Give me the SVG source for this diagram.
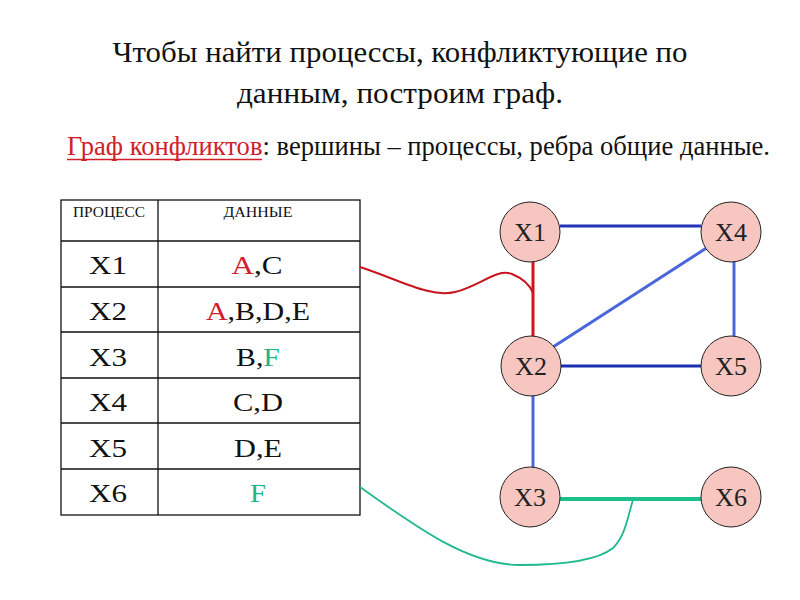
<svg xmlns="http://www.w3.org/2000/svg" width="800" height="600" viewBox="0 0 800 600">
<style>
.t{font-family:"Liberation Serif","Times New Roman",serif;fill:#111}
.cell{font-size:26px;text-anchor:middle}
.hdr{font-size:14px;text-anchor:middle}
.grid{stroke:#111;stroke-width:1.3;fill:none}
.node circle{fill:#f7c6c0;stroke:#222;stroke-width:1}
.node text{font-family:"Liberation Serif","Times New Roman",serif;font-size:26px;text-anchor:middle;fill:#222}
.red{fill:#d0202a}
.grn{fill:#22b48c}
</style>
<rect width="800" height="600" fill="#fff"/>
<g id="title">
<text class="t" x="400" y="62" font-size="29" text-anchor="middle" textLength="575" lengthAdjust="spacingAndGlyphs">Чтобы найти процессы, конфликтующие по</text>
<text class="t" x="400" y="103" font-size="29" text-anchor="middle" textLength="326" lengthAdjust="spacingAndGlyphs">данным, построим граф.</text>
</g>
<g id="subtitle">
<text class="t" x="67" y="155" font-size="27" textLength="703" lengthAdjust="spacingAndGlyphs"><tspan class="red">Граф конфликтов</tspan>: вершины – процессы, ребра общие данные.</text>
<line x1="67" y1="159.5" x2="262" y2="159.5" stroke="#d0202a" stroke-width="1.5"/>
</g>
<g id="table">
<rect class="grid" x="61" y="200" width="299" height="315"/>
<line class="grid" x1="158" y1="200" x2="158" y2="515"/>
<line class="grid" x1="61" y1="241" x2="360" y2="241"/>
<line class="grid" x1="61" y1="287" x2="360" y2="287"/>
<line class="grid" x1="61" y1="332" x2="360" y2="332"/>
<line class="grid" x1="61" y1="378" x2="360" y2="378"/>
<line class="grid" x1="61" y1="423" x2="360" y2="423"/>
<line class="grid" x1="61" y1="469" x2="360" y2="469"/>
<text class="t hdr" x="109" y="217" textLength="72" lengthAdjust="spacingAndGlyphs">ПРОЦЕСС</text>
<text class="t hdr" x="258" y="217" textLength="69" lengthAdjust="spacingAndGlyphs">ДАННЫЕ</text>
<text class="t cell" x="108" y="274" textLength="38" lengthAdjust="spacingAndGlyphs">X1</text>
<text class="t cell" x="108" y="320" textLength="38" lengthAdjust="spacingAndGlyphs">X2</text>
<text class="t cell" x="108" y="366" textLength="38" lengthAdjust="spacingAndGlyphs">X3</text>
<text class="t cell" x="108" y="411" textLength="38" lengthAdjust="spacingAndGlyphs">X4</text>
<text class="t cell" x="108" y="457" textLength="38" lengthAdjust="spacingAndGlyphs">X5</text>
<text class="t cell" x="108" y="502" textLength="38" lengthAdjust="spacingAndGlyphs">X6</text>
<text class="t cell" x="257" y="274" textLength="51" lengthAdjust="spacingAndGlyphs"><tspan class="red">A</tspan>,C</text>
<text class="t cell" x="258" y="320" textLength="104" lengthAdjust="spacingAndGlyphs"><tspan class="red">A</tspan>,B,D,E</text>
<text class="t cell" x="258" y="366" textLength="44" lengthAdjust="spacingAndGlyphs">B,<tspan class="grn">F</tspan></text>
<text class="t cell" x="258" y="411" textLength="50" lengthAdjust="spacingAndGlyphs">C,D</text>
<text class="t cell" x="258" y="457" textLength="48" lengthAdjust="spacingAndGlyphs">D,E</text>
<text class="t cell" x="258" y="502" textLength="16" lengthAdjust="spacingAndGlyphs"><tspan class="grn">F</tspan></text>
</g>
<g id="connectors" fill="none" stroke-linecap="butt">
<path d="M360,267 C400,280 430,298 455,292 C480,286 497,268 512,274 C524,279 530,285 533,293" stroke="#c8141e" stroke-width="2"/>
<path d="M360,487 C420,530 470,565 520,565 C565,565 598,560 613,548 C626,535 628,515 633,500" stroke="#1fb98e" stroke-width="1.8"/>
<line x1="560" y1="226" x2="701" y2="226" stroke="#2233b8" stroke-width="3"/>
<line x1="533" y1="259" x2="533" y2="336" stroke="#d0141e" stroke-width="3"/>
<line x1="708" y1="247" x2="553" y2="347" stroke="#4a66dc" stroke-width="3"/>
<line x1="734" y1="258" x2="734" y2="336" stroke="#4a66dc" stroke-width="3"/>
<line x1="560" y1="366" x2="702" y2="366" stroke="#1a2eb4" stroke-width="3"/>
<line x1="533" y1="393" x2="533" y2="468" stroke="#4a66dc" stroke-width="3"/>
<line x1="560" y1="499" x2="701" y2="499" stroke="#1dbf8a" stroke-width="4"/>
</g>
<g id="X1" class="node"><circle cx="530" cy="232" r="30"/><text x="530" y="241">X1</text></g>
<g id="X4" class="node"><circle cx="731" cy="232" r="30"/><text x="731" y="241">X4</text></g>
<g id="X2" class="node"><circle cx="531" cy="366" r="30"/><text x="531" y="375">X2</text></g>
<g id="X5" class="node"><circle cx="731" cy="366" r="30"/><text x="731" y="375">X5</text></g>
<g id="X3" class="node"><circle cx="530" cy="497" r="30"/><text x="530" y="506">X3</text></g>
<g id="X6" class="node"><circle cx="731" cy="497" r="30"/><text x="731" y="506">X6</text></g>
</svg>
